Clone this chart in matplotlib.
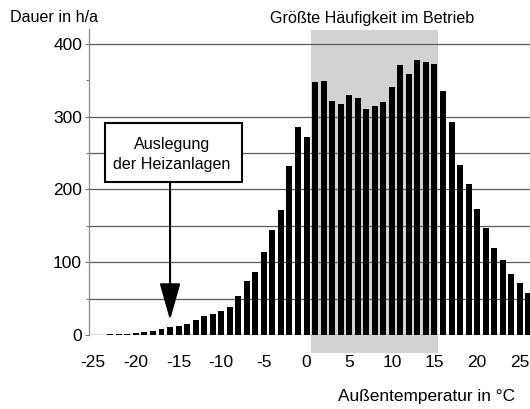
import matplotlib
matplotlib.use("Agg")
import matplotlib.pyplot as plt
from matplotlib.patches import Rectangle
import matplotlib.transforms as mtransforms

plt.rcParams['font.family'] = ['Liberation Sans', 'DejaVu Sans']

temps = list(range(-25, 27))
hours = [0.5, 0.5, 1, 1.5, 2, 3, 4.5, 6, 8, 10.5,
         12, 15, 20.6, 26, 29, 33, 39, 53, 74, 86,
         114, 144, 172, 232, 286, 272,
         348, 349, 321, 317, 329, 326, 311, 315, 320, 341,
         371, 358, 378, 375, 372,
         335, 292, 234, 208, 173, 147, 119, 103, 84, 71, 57]
xticks = [-25, -20, -15, -10, -5, 0, 5, 10, 15, 20, 25]
yticks = [0, 100, 200, 300, 400]
grid_values = [50, 100, 150, 200, 250, 300, 400]
best_range = (0.5, 15.45)
design_temp = -16

fig = plt.figure(figsize=(5.30, 4.09), dpi=100)
ax = fig.add_axes([89/530, 1-335/409, 441/530, 305.8/409])
ax.set_xlim(-25.5, 26.2)
ax.set_ylim(0, 420)

# shaded band (extends below the axis)
trans = mtransforms.blended_transform_factory(ax.transData, ax.transAxes)
ax.add_patch(Rectangle((best_range[0], -0.059), best_range[1]-best_range[0], 1.057,
                       transform=trans, facecolor='#d2d2d2', edgecolor='none',
                       clip_on=False, zorder=0))

for g in grid_values:
    ax.axhline(g, color='#5a5a5a', lw=0.9, zorder=1)
ax.axhline(0, color='#444444', lw=1.0, zorder=1)

ax.bar(temps, hours, width=0.7, color='black', zorder=3)

for s in ['top', 'right', 'bottom']:
    ax.spines[s].set_visible(False)
ax.spines['left'].set_color('#888888')
ax.spines['left'].set_linewidth(0.9)

ax.set_xticks(xticks)
ax.set_xticklabels([str(t) for t in xticks])
ax.set_yticks(yticks)
ax.set_yticks([50, 150, 250, 350], minor=True)
ax.tick_params(axis='x', length=0, pad=14.5, labelsize=12.5)
ax.tick_params(axis='y', which='major', length=3, width=0.8, color='#777777',
               pad=2, labelsize=12.5)
ax.tick_params(axis='y', which='minor', length=2, width=0.8, color='#777777')

# annotation box
ax.add_patch(Rectangle((-23.62, 210), 16.07, 81, facecolor='white',
                       edgecolor='black', lw=1.5, zorder=4))
ax.text(-15.8, 261, 'Auslegung', ha='center', va='center', fontsize=11.6, zorder=5)
ax.text(-15.8, 233.5, 'der Heizanlagen', ha='center', va='center', fontsize=11.6, zorder=5)
ax.annotate('', xy=(design_temp, 20.5), xytext=(design_temp, 210),
            arrowprops=dict(arrowstyle='-|>,head_length=2.3,head_width=0.65',
                            color='black', lw=1.5, shrinkA=0, shrinkB=0),
            zorder=5)

fig.text(10/530, 1-18/409, 'Dauer in h/a', ha='left', va='center', fontsize=11.6)
fig.text(372/530, 1-18/409, 'Größte Häufigkeit im Betrieb', ha='center', va='center',
         fontsize=11.6)
fig.text(338/530, 1-397/409, 'Außentemperatur in °C', ha='left', va='center',
         fontsize=12.4)

fig.savefig('out.png', dpi=100)
